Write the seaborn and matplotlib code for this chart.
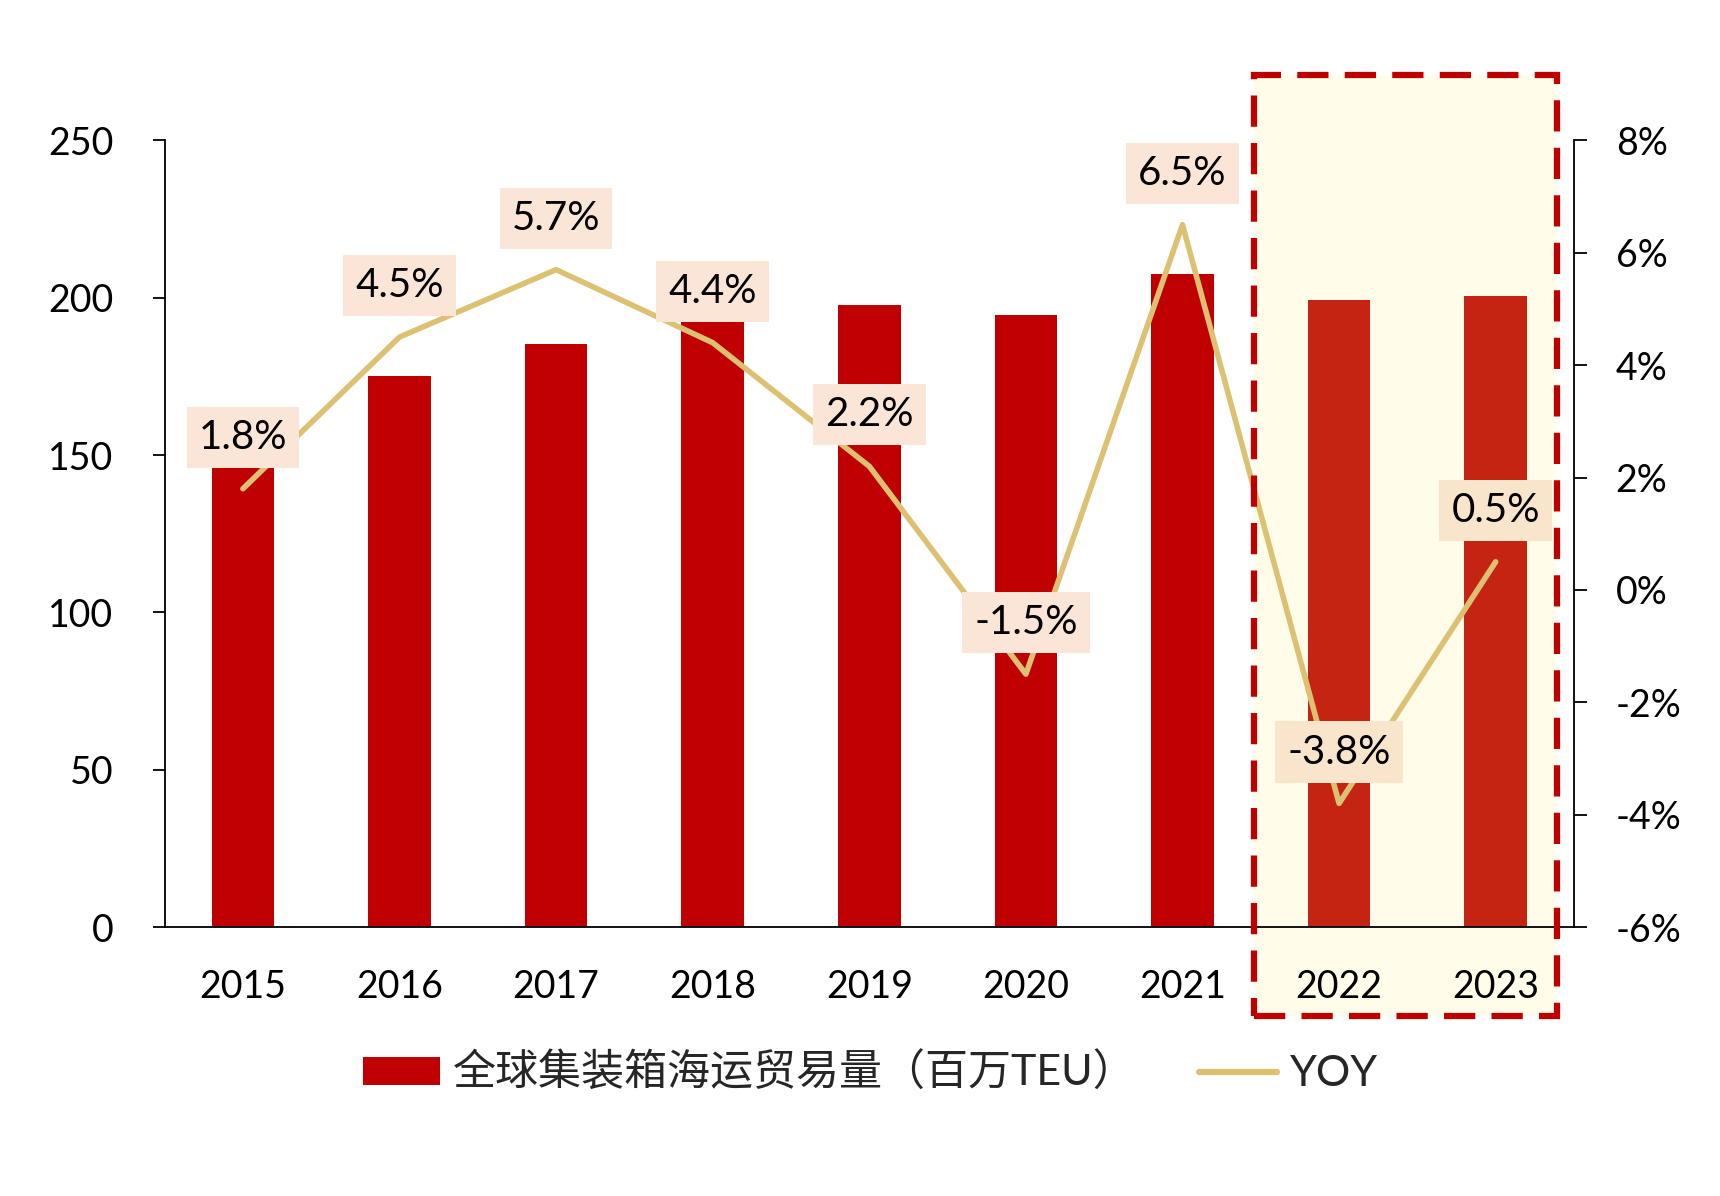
import numpy as np
import matplotlib
matplotlib.use("Agg")
import matplotlib.pyplot as plt
from matplotlib.patches import Rectangle, Patch
from matplotlib.lines import Line2D
from matplotlib.ticker import FuncFormatter
import seaborn as sns

# dados
years = ["2015", "2016", "2017", "2018", "2019", "2020", "2021", "2022", "2023"]
volume = [147.5, 175.0, 185.2, 193.5, 197.7, 194.6, 207.5, 199.4, 200.5]
yoy = [1.8, 4.5, 5.7, 4.4, 2.2, -1.5, 6.5, -3.8, 0.5]
bar_colors = ["#C00000"] * 7 + ["#C62412"] * 2
bar_label = "全球集装箱海运贸易量（百万TEU）"
line_label = "YOY"

sns.set_theme(style="white")
plt.rcParams["font.family"] = ["Lato", "Noto Sans CJK SC", "DejaVu Sans"]

fig = plt.figure(figsize=(17.2, 11.96), dpi=100)
ax = fig.add_axes([0.0957, 0.2249, 0.8194, 0.6577])
ax.set_facecolor("none")

# area destacada (previsao)
ax.add_patch(Rectangle((6.454, -28.2), 1.94, 299.1, facecolor="#FFFDEA",
                       edgecolor="none", zorder=0, clip_on=False))

sns.barplot(x=years, y=volume, hue=years, palette=bar_colors, legend=False,
            width=0.4, saturation=1, ax=ax, zorder=2)
for p in ax.patches:
    p.set_edgecolor("none")

ax.set_xlim(-0.5, 8.5)
ax.set_ylim(0, 250)
ax.set_yticks(np.arange(0, 251, 50))
ax.set_xlabel("")
ax.set_ylabel("")
ax.set_xticks(np.arange(-0.5, 9, 1), minor=True)
ax.tick_params(axis="x", which="major", length=0, pad=30, labelsize=27, colors="black")
ax.tick_params(axis="x", which="minor", length=9, width=1.3, direction="out", color="black")
ax.tick_params(axis="y", length=9, width=1.3, direction="out", pad=28, labelsize=27,
               colors="black", left=True)
for s in ["top", "right"]:
    ax.spines[s].set_visible(False)
for s in ["left", "bottom"]:
    ax.spines[s].set_color("black")
    ax.spines[s].set_linewidth(1.3)

# eixo secundario
ax2 = ax.twinx()
ax2.set_facecolor("none")
sns.lineplot(x=np.arange(len(years)), y=yoy, color="#DDC173", linewidth=4, ax=ax2,
             zorder=3)
ax2.set_ylim(-6, 8)
ax2.set_yticks(np.arange(-6, 9, 2))
ax2.yaxis.set_major_formatter(FuncFormatter(lambda v, _: f"{v:.0f}%"))
ax2.tick_params(axis="y", length=9, width=1.3, direction="out", pad=21, labelsize=27,
                colors="black", right=True)
ax2.grid(False)
ax.grid(False)
for s in ["top", "left", "bottom"]:
    ax2.spines[s].set_visible(False)
ax2.spines["right"].set_color("black")
ax2.spines["right"].set_linewidth(1.3)
ax2.set_xlim(-0.5, 8.5)

for i, v in enumerate(yoy):
    box_fc = "#F9E5CC" if i >= 7 else "#FBE5D6"
    ax2.annotate(f"{v:.1f}%", (i, v), xytext=(0, 37), textcoords="offset points",
                 ha="center", va="center", fontsize=29, color="black", zorder=5,
                 bbox=dict(boxstyle="square,pad=0.3", fc=box_fc, ec="none"))

# borda tracejada
ax2.add_patch(Rectangle((6.454, -6.0 - 28.2 * 14 / 250), 1.94, 299.1 * 14 / 250,
                        facecolor="none", edgecolor="#BE0000", linewidth=4.5,
                        linestyle=(0, (5.0, 2.6)), zorder=4, clip_on=False))

handles = [Patch(facecolor="#C00000", edgecolor="none"),
           Line2D([], [], color="#DDC173", linewidth=4.5)]
fig.legend(handles, [bar_label, line_label], loc="center", bbox_to_anchor=(0.506, 0.103),
           ncol=2, frameon=False, fontsize=31, handlelength=1.8, handleheight=0.6,
           handletextpad=0.3, columnspacing=1.45)

fig.savefig("out.png", dpi=100)
